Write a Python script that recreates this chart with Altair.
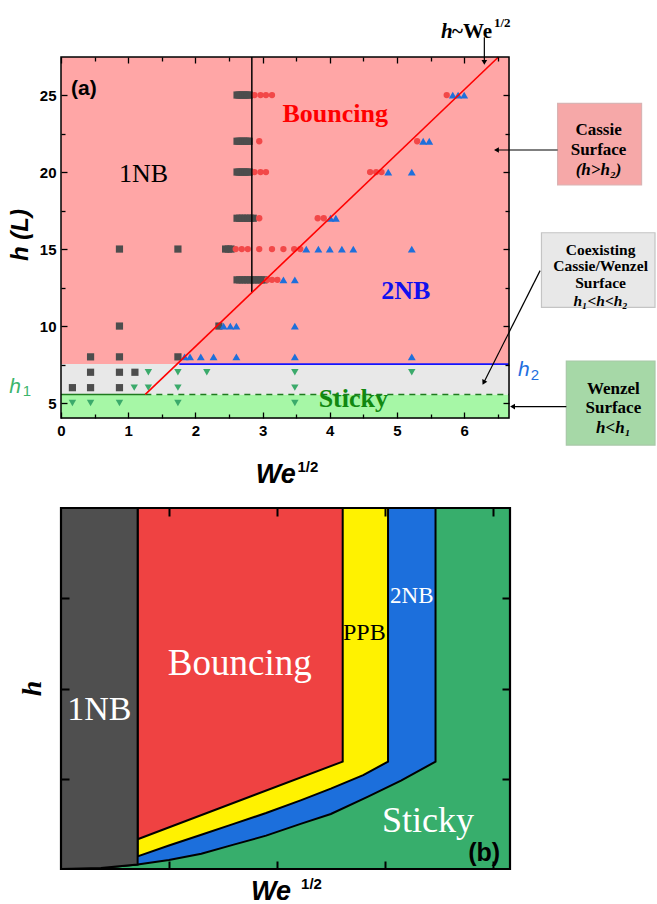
import altair as alt
import pandas as pd

SERIF = "Liberation Serif"
SANS = "Liberation Sans"

# ---------------- panel (a): measured impacts ----------------
# outcome -> {pillar height h (L): [We^1/2 of each impact]}
one_nb = {
    25: [2.62, 2.65, 2.68, 2.71, 2.74, 2.77, 2.80],
    22: [2.62, 2.65, 2.68, 2.71, 2.74, 2.77, 2.80],
    20: [2.62, 2.65, 2.68, 2.71, 2.74, 2.77, 2.80],
    17: [2.62, 2.66, 2.70, 2.74, 2.78, 2.82, 2.86],
    15: [0.87, 1.74, 2.45, 2.49, 2.53],
    13: [2.62, 2.66, 2.70, 2.74, 2.78, 2.82, 2.86, 2.90, 2.94, 2.98, 3.02],
    10: [0.87, 2.35],
    8: [0.44, 0.87, 1.74],
    7: [0.44, 0.87, 1.10],
    6: [0.17, 0.44, 0.87],
}
bouncing = {
    25: [2.88, 2.97, 3.05, 3.14, 5.74],
    22: [2.95, 5.30],
    20: [2.88, 2.97, 3.05, 4.60, 4.69, 4.77],
    17: [2.95, 3.82, 3.91],
    15: [2.60, 2.69, 2.78, 2.95, 3.14, 3.31, 3.47, 3.56],
    13: [3.07, 3.14, 3.22],
}
two_nb = {
    25: [5.83, 5.91, 6.00],
    22: [5.39, 5.48],
    20: [4.87, 5.22],
    17: [4.01, 4.09],
    15: [3.65, 3.83, 4.00, 4.18, 4.35, 5.22],
    13: [3.31, 3.48],
    10: [2.42, 2.52, 2.61, 3.48],
    8: [1.84, 1.92, 2.08, 2.27, 2.61, 3.48, 5.22],
}
sticky = {
    7: [1.30, 1.74, 2.17, 3.48, 5.22],
    6: [1.09, 1.30, 1.74, 3.48],
    5: [0.17, 0.44, 0.87, 1.74, 3.48],
}

# wetting thresholds and guide lines
h1 = 5.56
h2 = 7.53
fit_we = [1.255, 6.51]      # h ~ We^1/2
fit_h = [5.56, 27.47]
onb_edge_we = 2.84          # 1NB / bouncing boundary
onb_edge_h = [12.2, 27.47]
h2_from = 1.76
h1_dash_from = 1.255

x_major_a = [0, 1, 2, 3, 4, 5, 6]
x_minor_a = [0.5, 1.5, 2.5, 3.5, 4.5, 5.5, 6.5]
y_major_a = [5, 10, 15, 20, 25]
y_minor_a = [7.5, 12.5, 17.5, 22.5]

# ---------------- panel (b): schematic regime diagram ----------------
sticky_edge_x = [0.00, 0.37, 0.71, 1.00, 1.30, 1.60, 1.90, 2.22, 2.50, 2.84, 3.15, 3.47]
sticky_edge_y = [0.00, 0.01, 0.05, 0.10, 0.17, 0.27, 0.37, 0.50, 0.61, 0.80, 0.98, 1.19]
ppb_edge_x = [0.71, 1.00, 1.30, 1.60, 1.90, 2.22, 2.50, 2.80, 3.03]
ppb_edge_y = [0.14, 0.26, 0.38, 0.50, 0.62, 0.76, 0.89, 1.04, 1.19]
bounce_edge_x = [0.71, 2.61]
bounce_edge_y = [0.33, 1.19]
onb_right = 0.71
x_ticks_b = [1, 2, 3, 4]
y_ticks_b = [1, 2, 3]

PINK, GREY, LGREEN = "#FFA6A6", "#E8E8E8", "#A6F7A6"
C_SQ, C_CI, C_TU, C_TD = "#4D4D4D", "#F24848", "#1E6FDB", "#3BAA6B"
R_GREY, R_RED, R_YEL, R_BLUE, R_GREEN = "#4F4F4F", "#EF4242", "#FFF200", "#1C6FDC", "#37AE6C"

XA = alt.Scale(domain=[0, 6.667], nice=False, zero=False)
YA = alt.Scale(domain=[4.03, 27.47], nice=False, zero=False)
XB = alt.Scale(domain=[0, 4.16], nice=False, zero=False)
YB = alt.Scale(domain=[0, 4], nice=False, zero=False)


def tick_axis(orient, values, size, width=1.3, labels=False):
    kw = dict(orient=orient, values=values, domain=False, grid=False, ticks=True,
              tickSize=size, offset=-size, tickColor="black", tickWidth=width,
              labels=labels, zindex=2)
    if labels:
        kw.update(labelFont=SANS, labelFontSize=15, labelFontWeight="bold",
                  labelColor="black", labelPadding=5, labelFlush=False,
                  labelOverlap=False)
    return alt.Axis(**kw)


def frame_df(xd, yd):
    return pd.DataFrame({"x0": [xd[0]], "x1": [xd[1]], "y0": [yd[0]], "y1": [yd[1]]})


def axis_layer(xd, yd, xs, ys, xaxis, yaxis):
    return alt.Chart(frame_df(xd, yd)).mark_rect(opacity=0).encode(
        x=alt.X("x0:Q", scale=xs, axis=xaxis, title=None), x2="x1:Q",
        y=alt.Y("y0:Q", scale=ys, axis=yaxis, title=None), y2="y1:Q")


def frame_layer(xd, yd, xs, ys, width):
    return alt.Chart(frame_df(xd, yd)).mark_rect(
        fillOpacity=0, stroke="black", strokeWidth=width).encode(
        x=alt.X("x0:Q", scale=xs, axis=None), x2="x1:Q",
        y=alt.Y("y0:Q", scale=ys, axis=None), y2="y1:Q")


def txt(x, y, s, xs, ys, **style):
    d = pd.DataFrame({"x": [x], "y": [y], "s": [s]})
    return alt.Chart(d).mark_text(**style).encode(
        x=alt.X("x:Q", scale=xs, axis=None),
        y=alt.Y("y:Q", scale=ys, axis=None), text="s:N")


def seg(x1, y1, x2, y2, xs, ys, **style):
    d = pd.DataFrame({"x": [x1], "y": [y1], "x2": [x2], "y2": [y2]})
    return alt.Chart(d).mark_rule(**style).encode(
        x=alt.X("x:Q", scale=xs, axis=None), y=alt.Y("y:Q", scale=ys, axis=None),
        x2="x2:Q", y2="y2:Q")


def head(x, y, shape, xs, ys, angle=0, size=32):
    d = pd.DataFrame({"x": [x], "y": [y]})
    return alt.Chart(d).mark_point(shape=shape, filled=True, opacity=1, size=size,
                                   color="black", angle=angle).encode(
        x=alt.X("x:Q", scale=xs, axis=None), y=alt.Y("y:Q", scale=ys, axis=None))


def box(x0, x1, y0, y1, fill, stroke, xs, ys):
    d = pd.DataFrame({"x0": [x0], "x1": [x1], "y0": [y0], "y1": [y1]})
    return alt.Chart(d).mark_rect(fill=fill, stroke=stroke, strokeWidth=1.2).encode(
        x=alt.X("x0:Q", scale=xs, axis=None), x2="x1:Q",
        y=alt.Y("y0:Q", scale=ys, axis=None), y2="y1:Q")


def points(series, shape, color, size):
    d = pd.DataFrame([{"we": x, "h": h} for h, xs in series.items() for x in xs])
    return alt.Chart(d).mark_point(shape=shape, filled=True, opacity=1, size=size,
                                   color=color, strokeWidth=0).encode(
        x=alt.X("we:Q", scale=XA, axis=None), y=alt.Y("h:Q", scale=YA, axis=None))


XD_A, YD_A = [0, 6.667], [4.03, 27.47]

bands = pd.DataFrame({"x0": [0, 0, 0], "x1": [6.667, 6.667, 6.667],
                      "y0": [4.03, h1, h2], "y1": [h1, h2, 27.47],
                      "fill": [LGREEN, GREY, PINK]})
bg_a = alt.Chart(bands).mark_rect().encode(
    x=alt.X("x0:Q", scale=XA, axis=tick_axis("bottom", x_major_a, 6, labels=True), title=None),
    x2="x1:Q",
    y=alt.Y("y0:Q", scale=YA, axis=tick_axis("left", y_major_a, 6, labels=True), title=None),
    y2="y1:Q",
    color=alt.Color("fill:N", scale=None))

fit_line = alt.Chart(pd.DataFrame({"we": fit_we, "h": fit_h})).mark_line(
    color="#FF0000", strokeWidth=1.6).encode(
    x=alt.X("we:Q", scale=XA, axis=None), y=alt.Y("h:Q", scale=YA, axis=None))

serif_bold = dict(font=SERIF, fontWeight="bold")
BOX_R = 8.84

panel_a = alt.layer(
    bg_a,
    axis_layer(XD_A, YD_A, XA, YA, tick_axis("top", x_major_a, 6), tick_axis("right", y_major_a, 6)),
    axis_layer(XD_A, YD_A, XA, YA, tick_axis("bottom", x_minor_a, 4), tick_axis("left", y_minor_a, 4)),
    axis_layer(XD_A, YD_A, XA, YA, tick_axis("top", x_minor_a, 4), tick_axis("right", y_minor_a, 4)),
    seg(0, h1, h1_dash_from, h1, XA, YA, color="#1E7A1E", strokeWidth=1.4),
    seg(h1_dash_from, h1, 6.667, h1, XA, YA, color="#1E7A1E", strokeWidth=1.4, strokeDash=[6, 5]),
    seg(h2_from, h2, 6.667, h2, XA, YA, color="#1414FF", strokeWidth=1.6),
    points(one_nb, "square", C_SQ, 52),
    points(bouncing, "circle", C_CI, 40),
    points(two_nb, "triangle-up", C_TU, 62),
    points(sticky, "triangle-down", C_TD, 55),
    seg(onb_edge_we, onb_edge_h[0], onb_edge_we, onb_edge_h[1], XA, YA, color="black", strokeWidth=1.5),
    fit_line,
    # region labels
    txt(0.15, 25.39, "(a)", XA, YA, font=SANS, fontWeight="bold", fontSize=21, align="left", color="black"),
    txt(1.23, 19.85, "1NB", XA, YA, font=SERIF, fontSize=26, align="center", color="black"),
    txt(4.08, 23.77, "Bouncing", XA, YA, fontSize=26, align="center", color="#FF0000", **serif_bold),
    txt(5.13, 12.25, "2NB", XA, YA, fontSize=26, align="center", color="#1010EE", **serif_bold),
    txt(4.35, 5.27, "Sticky", XA, YA, fontSize=26, align="center", color="#118811", **serif_bold),
    # threshold names
    txt(-0.77, 6.06, "h", XA, YA, font=SANS, fontSize=21, fontStyle="italic", align="left", color="#3BB56C"),
    txt(-0.57, 5.78, "1", XA, YA, font=SANS, fontSize=15, align="left", color="#3BB56C"),
    txt(6.80, 7.14, "h", XA, YA, font=SANS, fontSize=21, fontStyle="italic", align="left", color="#1F6FE0"),
    txt(6.99, 6.84, "2", XA, YA, font=SANS, fontSize=15, align="left", color="#1F6FE0"),
    # scaling note above the frame
    txt(5.655, 29.11, "h", XA, YA, fontSize=21, fontStyle="italic", align="left", color="black", **serif_bold),
    txt(5.655, 29.11, "~We", XA, YA, fontSize=21, align="left", dx=11, color="black", **serif_bold),
    txt(5.655, 29.11, "1/2", XA, YA, fontSize=13, align="left", dx=53, dy=-9, color="black", **serif_bold),
    seg(6.30, 28.75, 6.30, 27.2, XA, YA, color="black", strokeWidth=1.2),
    head(6.30, 27.12, "triangle-down", XA, YA),
    # axis titles
    txt(-0.595, 15.91, "h (L)", XA, YA, font=SANS, fontSize=24, fontWeight="bold", fontStyle="italic",
        angle=270, align="center", baseline="middle", color="black"),
    txt(2.90, 0.325, "We", XA, YA, font=SANS, fontSize=27, fontWeight="bold", fontStyle="italic",
        align="left", color="black"),
    txt(3.52, 0.87, "1/2", XA, YA, font=SANS, fontSize=15, fontWeight="bold", align="left", color="black"),
    # surface-state call-outs
    box(7.39, 8.64, 19.16, 24.46, "#F6A8A8", "#D9B3B3", XA, YA),
    txt(8.00, 22.73, "Cassie", XA, YA, fontSize=17, align="center", color="black", **serif_bold),
    txt(8.00, 21.43, "Surface", XA, YA, fontSize=17, align="center", color="black", **serif_bold),
    txt(8.00, 20.13, "(h>h\u2082)", XA, YA, fontSize=17, fontStyle="italic", align="center", color="black", **serif_bold),
    seg(7.39, 21.43, 6.50, 21.43, XA, YA, color="black", strokeWidth=1.2),
    head(6.48, 21.43, "triangle-left", XA, YA),
    box(7.15, BOX_R, 11.21, 16.06, "#E8E8E8", "#C4C4C4", XA, YA),
    txt(8.03, 14.97, "Coexisting", XA, YA, fontSize=15.5, align="center", color="black", **serif_bold),
    txt(8.03, 13.87, "Cassie/Wenzel", XA, YA, fontSize=15.5, align="center", color="black", **serif_bold),
    txt(8.03, 12.77, "Surface", XA, YA, fontSize=15.5, align="center", color="black", **serif_bold),
    txt(8.03, 11.62, "h\u2081<h<h\u2082", XA, YA, fontSize=15.5, fontStyle="italic", align="center", color="black", **serif_bold),
    seg(7.13, 13.60, 6.30, 6.40, XA, YA, color="black", strokeWidth=1.2),
    head(6.29, 6.33, "triangle-up", XA, YA, angle=207),
    box(7.52, BOX_R, 2.27, 7.73, "#A6D8A7", "#A8C8A8", XA, YA),
    txt(8.22, 5.92, "Wenzel", XA, YA, fontSize=17, align="center", color="black", **serif_bold),
    txt(8.22, 4.68, "Surface", XA, YA, fontSize=17, align="center", color="black", **serif_bold),
    txt(8.22, 3.40, "h<h\u2081", XA, YA, fontSize=17, fontStyle="italic", align="center", color="black", **serif_bold),
    seg(7.52, 4.77, 6.72, 4.77, XA, YA, color="black", strokeWidth=1.2),
    head(6.72, 4.77, "triangle-left", XA, YA),
    frame_layer(XD_A, YD_A, XA, YA, 1.5),
).resolve_axis(x="independent", y="independent").properties(width=448, height=361)


# ---------------- panel (b) ----------------
XD_B, YD_B = [0, 4.16], [0, 4]


def region(xs_, ys_, fill):
    d = pd.DataFrame({"x": xs_, "y": ys_, "top": [4] * len(xs_)})
    return alt.Chart(d).mark_area(fill=fill, stroke="black", strokeWidth=2, opacity=1).encode(
        x=alt.X("x:Q", scale=XB, axis=None), y=alt.Y("y:Q", scale=YB, axis=None), y2="top:Q")


grey_x = [x for x in sticky_edge_x if x <= onb_right]
grey_y = sticky_edge_y[:len(grey_x)]

bg_b = alt.Chart(frame_df(XD_B, YD_B)).mark_rect(color=R_GREEN).encode(
    x=alt.X("x0:Q", scale=XB, axis=tick_axis("bottom", x_ticks_b, 8, width=2), title=None), x2="x1:Q",
    y=alt.Y("y0:Q", scale=YB, axis=tick_axis("left", y_ticks_b, 8, width=2), title=None), y2="y1:Q")

panel_b = alt.layer(
    bg_b,
    axis_layer(XD_B, YD_B, XB, YB, tick_axis("top", x_ticks_b, 8, width=2), tick_axis("right", y_ticks_b, 8, width=2)),
    region(sticky_edge_x, sticky_edge_y, R_BLUE),
    region(ppb_edge_x, ppb_edge_y, R_YEL),
    region(bounce_edge_x, bounce_edge_y, R_RED),
    region(grey_x, grey_y, R_GREY),
    txt(0.355, 1.76, "1NB", XB, YB, font=SERIF, fontSize=34, align="center", color="white"),
    txt(1.656, 2.276, "Bouncing", XB, YB, font=SERIF, fontSize=37, align="center", color="white"),
    txt(2.81, 2.61, "PPB", XB, YB, font=SERIF, fontSize=24, align="center", color="black"),
    txt(3.25, 3.03, "2NB", XB, YB, font=SERIF, fontSize=23, align="center", color="white"),
    txt(3.40, 0.534, "Sticky", XB, YB, font=SERIF, fontSize=36, align="center", color="white"),
    txt(3.92, 0.174, "(b)", XB, YB, font=SANS, fontSize=25, fontWeight="bold", align="center", color="black"),
    txt(-0.255, 2.0, "h", XB, YB, font=SERIF, fontSize=28, fontWeight="bold", fontStyle="italic",
        angle=270, align="center", baseline="middle", color="black"),
    txt(1.761, -0.255, "We", XB, YB, font=SANS, fontSize=27, fontWeight="bold", fontStyle="italic",
        align="left", color="black"),
    txt(2.224, -0.17, "1/2", XB, YB, font=SANS, fontSize=15, fontWeight="bold", align="left", color="black"),
    frame_layer(XD_B, YD_B, XB, YB, 2.2),
).resolve_axis(x="independent", y="independent").properties(width=449, height=361)

chart = alt.vconcat(panel_a, panel_b, spacing=14).properties(
    padding={"left": 8, "top": 16, "right": 0, "bottom": 4}
).configure_view(strokeWidth=0).configure(background="white")

chart.save("out.html", embed_options={"renderer": "svg", "actions": False})
